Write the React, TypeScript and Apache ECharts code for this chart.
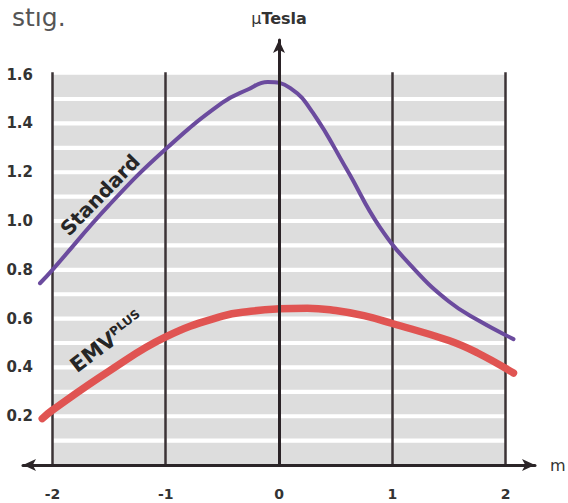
import React, { useEffect, useRef } from "react";
import * as echarts from "echarts";

// Curve samples (x in m, y in µTesla)
const standardX = [-2.11, -2, -1.5, -1, -0.5, -0.28, -0.1, 0.1, 0.3, 0.6, 0.89, 1.2, 1.5, 1.75, 2.07];
const standardY = [0.745, 0.8, 1.065, 1.295, 1.485, 1.538, 1.57, 1.545, 1.443, 1.21, 0.975, 0.8, 0.67, 0.595, 0.516];
const emvX = [-2.09, -2, -1.5, -1, -0.5, -0.25, 0, 0.25, 0.5, 0.75, 1, 1.5, 1.75, 2.07];
const emvY = [0.19, 0.225, 0.385, 0.525, 0.61, 0.63, 0.64, 0.643, 0.633, 0.612, 0.58, 0.51, 0.46, 0.377];

const xTickLabels = [-2, -1, 0, 1, 2];
const yTickLabels = [0.2, 0.4, 0.6, 0.8, 1.0, 1.2, 1.4, 1.6];
const verticalGridX = [-2, -1, 1, 2];
const bandTop = 1.6;
const bandLeft = -2;
const bandRight = 2;

const FONT = "DejaVu Sans, Liberation Sans, sans-serif";

export default function App() {
  const ref = useRef<HTMLDivElement>(null);

  useEffect(() => {
    document.body.style.margin = "0";
    const chart = echarts.init(ref.current as HTMLDivElement, null, { renderer: "svg" });

    // stripe background (decoration): gray bands separated by thin white gaps every 0.1
    const step = 0.1;
    const halfGap = 0.0085;
    const bands: any[] = [];
    const n = Math.round(bandTop / step);
    for (let k = 0; k < n; k++) {
      const lo = k * step + (k === 0 ? 0 : halfGap);
      const hi = k === n - 1 ? bandTop : (k + 1) * step - halfGap;
      bands.push([{ coord: [bandLeft, lo] }, { coord: [bandRight, hi] }]);
    }

    const vLines = verticalGridX.map((x) => [
      { coord: [x, 0] },
      { coord: [x, bandTop + 0.01] },
    ]);

    const option: any = {
      animation: false,
      title: {
        text: "stıg.",
        left: 7,
        top: 0,
        textStyle: { fontSize: 25, fontWeight: "normal", color: "#555", fontFamily: FONT },
      },
      grid: { left: 23, right: 33, top: 40, bottom: 38, containLabel: false, outerBoundsMode: "none" },
      xAxis: {
        type: "value",
        min: -2.26,
        max: 2.26,
        z: 3,
        axisLine: {
          onZero: true,
          symbol: ["arrow", "arrow"],
          symbolSize: [9, 13],
          lineStyle: { color: "#2b2528", width: 3 },
        },
        axisTick: { show: false },
        splitLine: { show: false },
        axisLabel: {
          customValues: xTickLabels,
          margin: 22,
          fontSize: 14,
          fontWeight: "bold",
          color: "#333",
          fontFamily: FONT,
          formatter: (v: number) => String(Math.round(v)),
        },
        name: "m",
        nameLocation: "end",
        nameGap: 15,
        nameTextStyle: { fontSize: 16, color: "#333", fontFamily: FONT, verticalAlign: "middle" },
      },
      yAxis: [
        {
          type: "value",
          min: 0,
          max: 1.742,
          position: "left",
          offset: -18,
          axisLine: { show: false, onZero: false },
          axisTick: { show: false },
          splitLine: { show: false },
          axisLabel: {
            customValues: yTickLabels,
            margin: 8,
            fontSize: 15,
            fontWeight: "bold",
            color: "#333",
            fontFamily: FONT,
            padding: [5, 0, 0, 0],
            formatter: (v: number) => v.toFixed(1),
          },
        },
        {
          type: "value",
          min: 0,
          max: 1.742,
          position: "left",
          z: 3,
          axisLine: {
            show: true,
            onZero: true,
            onZeroAxisIndex: 0,
            symbol: ["none", "arrow"],
            symbolSize: [9, 13],
            lineStyle: { color: "#2a2226", width: 3 },
          },
          axisTick: { show: false },
          axisLabel: { show: false },
          splitLine: { show: false },
          name: "{m|µ}{t|Tesla}",
          nameLocation: "end",
          nameGap: 14,
          nameTextStyle: {
            color: "#333",
            rich: {
              m: { fontSize: 16, fontFamily: FONT, color: "#333" },
              t: { fontSize: 16, fontWeight: "bold", fontFamily: FONT, color: "#333" },
            },
          },
        },
      ],
      graphic: [
        {
          type: "text",
          x: 100,
          y: 195,
          rotation: 0.8,
          z: 10,
          style: {
            text: "Standard",
            fontSize: 20,
            fontWeight: "bold",
            fontFamily: FONT,
            fill: "#262626",
            align: "center",
            verticalAlign: "middle",
          },
        },
        {
          type: "text",
          x: 107,
          y: 342,
          rotation: 0.65,
          z: 10,
          style: {
            text: "{a|EMV}{b|PLUS}",
            fill: "#262626",
            align: "center",
            verticalAlign: "middle",
            rich: {
              a: { fontSize: 21, fontWeight: "bold", fontFamily: FONT, fill: "#262626" },
              b: { fontSize: 12, fontWeight: "bold", fontFamily: FONT, fill: "#262626", verticalAlign: "top" },
            },
          },
        },
      ],
      series: [
        {
          type: "line",
          data: [],
          silent: true,
          markArea: {
            silent: true,
            z: 1,
            itemStyle: { color: "#dddddd" },
            data: bands,
          },
        },
        {
          type: "line",
          data: [],
          silent: true,
          markLine: {
            silent: true,
            z: 1.5,
            symbol: ["none", "none"],
            label: { show: false },
            lineStyle: { color: "#3b3336", width: 2.5, type: "solid" },
            data: vLines,
          },
        },
        {
          name: "Standard",
          type: "line",
          z: 2,
          smooth: 0.45,
          showSymbol: false,
          lineStyle: { color: "#6b4b9e", width: 4, cap: "round" },
          data: standardX.map((x, i) => [x, standardY[i]]),
        },
        {
          name: "EMV PLUS",
          type: "line",
          z: 2,
          smooth: 0.45,
          showSymbol: false,
          lineStyle: { color: "#e05452", width: 7.5, cap: "round" },
          data: emvX.map((x, i) => [x, emvY[i]]),
        },
      ],
    };

    chart.setOption(option);
    return () => chart.dispose();
  }, []);

  return <div ref={ref} style={{ width: 568, height: 503 }} />;
}
